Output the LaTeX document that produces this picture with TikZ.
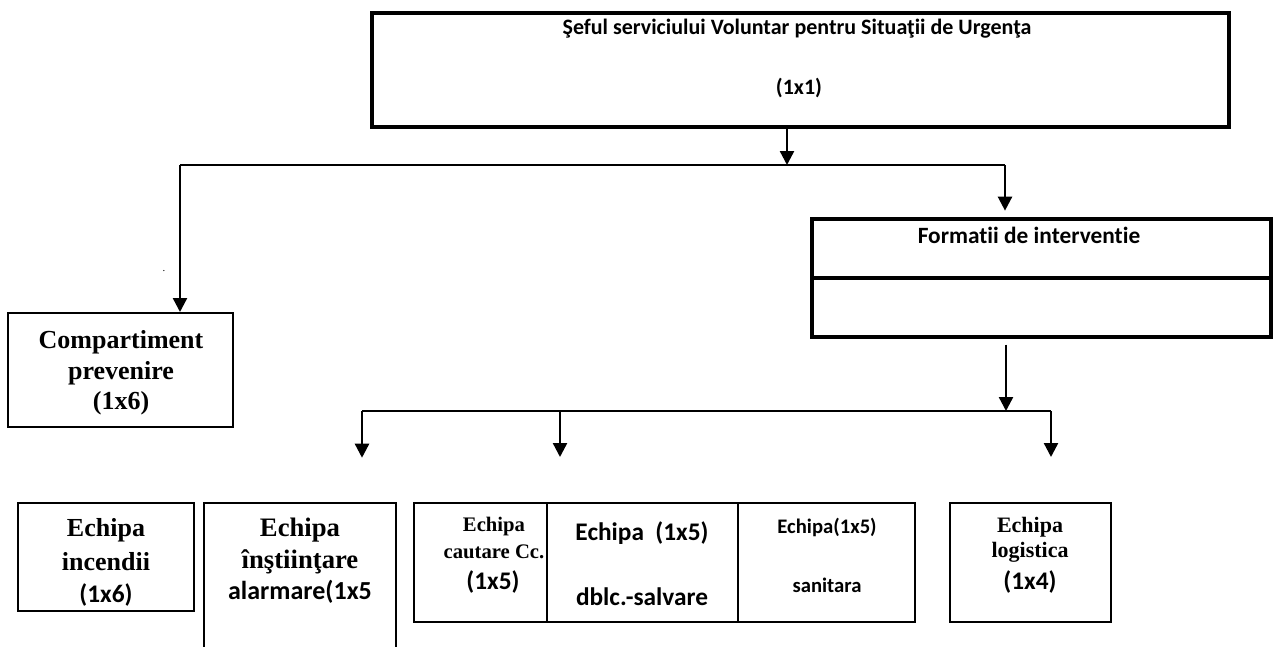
\documentclass[tikz,border=0pt]{standalone}
\usepackage{fontspec}
\setmainfont{Liberation Serif}
\newfontfamily\calib[Ligatures=NoCommon]{Carlito}
\usetikzlibrary{arrows.meta,calc}
\begin{document}
\begin{tikzpicture}[x=0.75pt,y=-0.75pt,
  box/.style={draw, line width=1.5pt, inner sep=0pt, rectangle},
  thickbox/.style={draw, line width=2.5pt, inner sep=0pt, rectangle},
  openbox/.style={inner sep=0pt, rectangle},
  tx/.style={inner sep=0pt, font=\bfseries},
  sa/.style={inner sep=0pt, font=\calib\bfseries},
  conn/.style={line width=1.8pt},
  hconn/.style={line width=1.1pt},
  arr/.style={line width=1.8pt, -{Triangle[width=10.5pt,length=10.5pt]}}
]
\useasboundingbox (0,0) rectangle (1274,646);

% boxes
\node[thickbox, minimum width=642.75pt, minimum height=85.5pt] (top) at (800.5,70) {};
\node[thickbox, minimum width=344.25pt, minimum height=88.5pt] (form) at (1041.5,278) {};
\node[box, minimum width=168.75pt, minimum height=85.5pt] (comp) at (120.5,370) {};
\node[box, minimum width=132pt, minimum height=81pt] (inc) at (106,557) {};
\node[openbox, minimum width=144pt, minimum height=117.75pt] (inst) at (300,581.5) {};
\node[box, minimum width=375.75pt, minimum height=89.25pt] (tri) at (664.5,562.5) {};
\node[box, minimum width=120.75pt, minimum height=89.25pt] (log) at (1030.5,562.5) {};

% open box sides
\draw[line width=1.5pt] (inst.south west) -- (inst.north west) -- (inst.north east) -- (inst.south east);
% formatii divider
\draw[line width=2.5pt] (form.west) -- (form.east);
% triple dividers
\coordinate (d1) at (547,0);
\coordinate (d2) at (738,0);
\draw[line width=1.5pt] (tri.north -| d1) -- (tri.south -| d1);
\draw[line width=1.5pt] (tri.north -| d2) -- (tri.south -| d2);

% texts
\node[sa, font=\calib\bfseries\fontsize{16.5}{18}\selectfont] (t1) at (797,29) {Şeful serviciului Voluntar pentru Situaţii de Urgenţa};
\node[sa, font=\calib\bfseries\fontsize{16.5}{18}\selectfont] (t2) at (799,88) {(1x1)};
\node[sa, font=\calib\bfseries\fontsize{17.5}{18}\selectfont] (tf) at (1029,235) {Formatii de interventie};

\node[tx, font=\bfseries\fontsize{19.5}{22}\selectfont] (c1) at (121,342) {Compartiment};
\node[tx, font=\bfseries\fontsize{19.5}{22}\selectfont] (c2) at (121,373) {prevenire};
\node[tx, font=\bfseries\fontsize{19.5}{22}\selectfont] (c3) at (121,403) {(1x6)};

\node[tx, font=\bfseries\fontsize{19.5}{22}\selectfont] (i1) at (106,530) {Echipa};
\node[tx, font=\bfseries\fontsize{19.5}{22}\selectfont] (i2) at (106,562) {incendii};
\node[sa, font=\calib\bfseries\fontsize{19}{22}\selectfont] (i3) at (106,595) {(1x6)};

\node[tx, font=\bfseries\fontsize{20}{22}\selectfont] (s1) at (300,530) {Echipa};
\node[tx, font=\bfseries\fontsize{20}{22}\selectfont] (s2) at (300,562) {înştiinţare};
\node[sa, font=\calib\bfseries\fontsize{19.5}{22}\selectfont] (s3) at (300,592) {alarmare(1x5};

\node[tx, font=\bfseries\fontsize{15.5}{18}\selectfont] (a1) at (494,527) {Echipa};
\node[tx, font=\bfseries\fontsize{15.5}{18}\selectfont] (a2) at (494,552) {cautare Cc.};
\node[sa, font=\calib\bfseries\fontsize{19}{22}\selectfont] (a3) at (493,582) {(1x5)};

\node[sa, font=\calib\bfseries\fontsize{19}{22}\selectfont] (b1) at (642,533) {Echipa\ \ (1x5)};
\node[sa, font=\calib\bfseries\fontsize{19}{22}\selectfont] (b2) at (642,597) {dblc.-salvare};

\node[sa, font=\calib\bfseries\fontsize{15.5}{18}\selectfont] (e1) at (827,527) {Echipa(1x5)};
\node[sa, font=\calib\bfseries\fontsize{15.5}{18}\selectfont] (e2) at (827,585) {sanitara};

\node[tx, font=\bfseries\fontsize{16.5}{18}\selectfont] (l1) at (1030,527) {Echipa};
\node[tx, font=\bfseries\fontsize{16.5}{18}\selectfont] (l2) at (1030,552) {logistica};
\node[sa, font=\calib\bfseries\fontsize{19}{22}\selectfont] (l3) at (1030,582) {(1x4)};

\node[inner sep=0pt, font=\fontsize{8}{9}\selectfont] (dot) at (164,271) {.};

% connectors
\coordinate (j1) at (787,165);
\coordinate (cl) at (180,165);
\coordinate (cr) at (1005,165);
\draw[arr] (top.south -| j1) -- (j1);
\draw[hconn] (cl) -- (cr);
\draw[arr] (cl) -- (cl |- comp.north);
\draw[arr, shorten >=5pt] (cr) -- (cr |- form.north);

\coordinate (j2) at (1006,411);
\coordinate (h1) at (362,411);
\coordinate (h2) at (560,411);
\coordinate (h3) at (1051,411);
\draw[arr, shorten <=4.5pt] (form.south -| j2) -- (j2);
\draw[hconn] (h1) -- (h3);
\draw[arr, shorten >=33.75pt] (h1) -- (h1 |- inst.north);
\draw[arr, shorten >=33.75pt] (h2) -- (h2 |- tri.north);
\draw[arr, shorten >=33.75pt] (h3) -- (h3 |- log.north);
\end{tikzpicture}
\end{document}
